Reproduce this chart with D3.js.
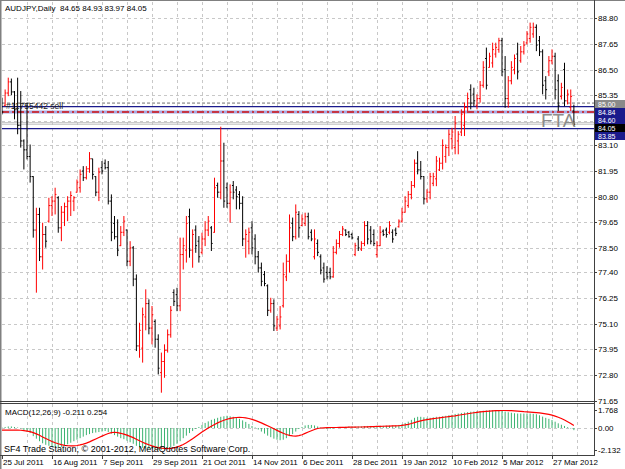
<!DOCTYPE html>
<html><head><meta charset="utf-8">
<script src="https://cdnjs.cloudflare.com/ajax/libs/d3/7.8.5/d3.min.js"></script>
<style>
html,body{margin:0;padding:0;background:#fff;}
svg text{font-family:"Liberation Sans",Arial,sans-serif;font-size:8px;}
</style></head>
<body><svg id="c" width="625" height="469"></svg>
<script>
// ---------------- DATA ----------------
const symbolTitle = "AUDJPY,Daily  84.65 84.93 83.97 84.05";
const macdTitle = "MACD(12,26,9) -0.211 0.254";
const copyright = "SF4 Trade Station, \u00A9 2001-2012, MetaQuotes Software Corp.";
const dateLabels = ["25 Jul 2011","16 Aug 2011","7 Sep 2011","29 Sep 2011","21 Oct 2011","14 Nov 2011","6 Dec 2011","28 Dec 2011","19 Jan 2012","10 Feb 2012","5 Mar 2012","27 Mar 2012"];
const dateLabelBars = [0,16,32,48,64,80,96,112,128,144,160,176];
const priceTicks = [88.80,87.65,86.50,85.35,84.20,83.10,81.95,80.80,79.65,78.50,77.40,76.25,75.10,73.95,72.80,71.65];
const hiddenPriceTicks = [84.20]; // covered by the price boxes in the reference
const macdTicks = [1.768,0.00,-2.132];

const open = [85.10,84.90,85.45,85.95,85.50,84.70,84.00,83.30,82.90,82.60,
81.70,79.30,80.00,78.10,79.10,79.70,80.40,80.60,80.75,79.40,
80.10,80.35,80.60,80.60,81.00,81.20,81.95,81.65,82.05,82.50,
81.70,81.00,82.10,82.30,82.10,80.60,79.60,79.00,78.60,79.20,
79.30,77.90,78.50,77.10,74.10,74.00,75.40,76.00,74.90,75.20,
74.40,72.90,73.40,73.90,74.60,76.50,76.40,75.90,78.20,78.40,
79.90,78.40,79.30,78.80,78.30,78.90,79.30,79.40,79.20,81.30,
81.00,82.40,81.20,80.50,81.30,81.10,80.90,80.50,78.90,78.80,
79.40,78.90,78.10,77.60,77.30,76.80,75.70,76.00,74.90,75.00,
75.90,77.20,77.90,79.60,79.00,80.00,79.50,79.60,79.90,79.20,
78.10,78.70,78.10,77.60,77.40,77.40,77.20,78.30,78.70,79.10,
79.30,79.20,79.10,78.20,78.90,78.45,78.70,79.50,79.30,79.10,
78.20,78.60,79.25,79.30,79.20,79.20,79.30,79.45,79.70,80.10,
80.40,80.90,81.30,82.30,82.00,81.70,80.70,81.00,81.40,81.60,
82.00,82.30,82.60,83.00,83.40,83.00,83.30,83.70,84.00,84.80,
85.60,85.40,84.90,85.20,85.80,87.00,86.60,86.80,87.20,87.40,
87.80,86.50,85.20,86.00,86.50,87.20,86.90,87.30,87.70,87.90,
88.10,88.40,87.80,87.30,86.00,86.40,86.90,87.10,86.00,85.30,
86.50,85.10,84.80,84.65];
const high = [85.24,85.61,86.14,86.10,85.54,86.14,85.54,83.37,85.02,83.14,
81.72,80.30,80.30,79.63,79.48,80.75,80.82,81.20,80.82,80.38,
80.53,80.82,81.04,80.82,81.57,82.02,82.17,82.17,82.80,82.50,
81.72,82.10,82.40,82.47,82.40,80.90,79.93,79.78,79.48,79.93,
79.33,78.80,78.58,77.31,75.14,75.82,76.64,76.19,75.89,75.29,
74.62,73.80,74.17,74.84,75.89,76.64,76.71,78.96,78.96,79.93,
80.26,79.33,79.51,79.03,79.18,79.70,79.93,79.48,81.65,81.43,
83.94,83.22,81.43,81.35,81.50,81.27,81.05,80.82,79.33,79.41,
79.70,79.11,78.36,77.84,77.46,76.86,76.26,76.19,75.44,75.89,
77.84,78.21,80.00,79.86,80.45,80.15,80.00,80.08,80.08,79.33,
79.33,78.88,78.21,77.84,77.68,77.61,78.58,78.88,79.26,79.48,
79.33,79.26,79.18,78.73,79.03,78.80,79.70,79.70,79.48,79.33,
78.80,79.48,79.33,79.41,79.70,79.33,79.41,79.78,80.30,80.82,
81.05,81.50,82.47,82.84,82.40,81.72,81.13,81.87,81.87,82.62,
82.55,83.37,83.14,83.82,83.89,84.42,83.74,84.72,85.02,85.47,
85.84,85.69,85.39,85.99,86.88,87.49,87.26,87.71,87.71,87.93,
87.93,87.11,86.21,86.88,87.18,87.71,87.56,87.78,88.23,88.61,
88.61,88.53,88.01,87.41,86.21,87.11,87.41,87.26,86.29,85.91,
86.81,85.61,85.61,84.93];
const low = [84.49,84.86,85.31,85.35,84.27,83.60,83.00,82.02,82.47,81.43,
78.96,76.49,77.91,77.53,78.51,79.63,79.93,80.00,79.18,78.80,
79.48,79.70,79.93,80.15,80.98,80.98,81.50,81.57,81.87,81.57,
80.82,80.60,81.80,82.02,80.45,78.80,78.88,78.13,78.58,79.03,
77.68,77.68,76.78,73.87,73.57,73.35,74.80,74.62,74.17,74.02,
72.82,72.00,72.67,73.80,74.47,75.89,75.66,75.66,77.53,77.84,
78.06,77.61,78.28,77.84,78.21,78.58,79.03,78.36,79.18,80.75,
80.68,80.30,80.30,79.63,80.68,80.23,80.23,78.58,78.06,78.21,
78.21,77.76,77.39,76.78,76.78,75.44,75.59,74.77,74.77,74.84,
75.82,77.01,77.39,78.80,78.88,78.96,79.48,79.48,78.88,78.80,
77.98,78.13,77.31,76.94,77.09,77.09,77.16,78.21,78.51,79.03,
79.03,78.96,78.88,78.13,78.36,78.36,78.58,78.66,78.66,78.58,
78.06,78.58,79.03,78.96,79.11,78.73,79.03,79.41,79.63,80.08,
80.30,80.68,81.20,81.80,81.57,80.45,80.53,80.68,81.27,81.27,
81.95,82.02,82.32,82.62,82.92,82.70,82.70,83.52,83.52,84.64,
84.72,84.86,84.72,85.02,85.69,85.61,86.59,86.59,87.04,87.26,
86.21,84.79,84.79,85.84,86.29,86.06,86.81,87.18,87.63,87.71,
87.93,87.33,87.11,85.39,85.16,86.21,86.74,85.16,84.64,85.16,
84.86,84.94,84.64,83.97];
const close = [84.60,85.45,85.95,85.50,84.70,84.00,83.30,82.90,82.60,81.70,
79.30,80.00,78.10,79.10,78.80,80.40,80.60,80.90,79.40,80.10,
80.35,80.60,80.85,80.75,81.45,81.80,81.65,82.05,82.50,81.80,
81.00,81.90,81.95,82.10,80.60,79.20,79.00,78.40,79.20,79.70,
77.90,78.50,77.10,74.10,74.80,75.50,76.00,74.90,75.50,74.40,
73.10,73.40,73.90,74.60,75.70,76.10,75.90,78.20,78.60,79.60,
78.40,79.10,78.60,78.10,78.90,79.30,79.70,78.70,81.20,81.00,
82.40,80.60,80.50,81.00,81.00,80.80,80.50,78.90,79.10,79.20,
78.50,78.10,77.60,77.00,76.90,75.70,76.00,75.00,75.30,75.40,
77.30,77.90,79.40,79.00,80.10,79.40,79.80,79.90,79.00,78.90,
78.90,78.30,77.50,77.10,77.20,77.20,78.30,78.70,79.10,79.35,
79.10,79.00,78.95,78.60,78.50,78.70,79.50,78.90,78.80,78.70,
78.60,79.20,79.10,79.10,79.50,78.90,79.15,79.70,80.10,80.60,
80.90,81.30,82.30,82.00,81.70,80.70,81.00,81.70,81.70,82.40,
82.30,83.10,83.00,83.60,83.70,84.10,83.60,84.50,84.80,85.20,
85.00,85.10,85.20,85.80,86.60,85.80,87.10,87.40,87.50,87.80,
86.40,85.20,86.00,86.60,87.00,86.40,87.30,87.60,88.10,88.40,
88.40,87.60,87.30,85.80,85.60,86.90,87.10,85.60,84.90,85.70,
85.10,85.40,85.30,84.05];
const macdMain = [0.05,0.1,0.15,0.15,0.1,0.05,-0.05,-0.2,-0.35,
-0.5,-0.8,-1.05,-1.3,-1.5,-1.65,-1.75,-1.85,-1.9,-1.9,-1.85,-1.8,
-1.6,-1.45,-1.3,-1.15,-1.0,-0.85,-0.7,-0.6,-0.5,-0.45,-0.4,-0.35,-0.3,
-0.4,-0.55,-0.7,-0.85,-1.0,-1.1,-1.25,-1.4,-1.55,-1.75,-1.88,-1.95,-2.0,-2.04,-2.07,-2.1,-2.12,-2.13,-2.1,-2.02,-1.9,-1.75,-1.55,-1.3,-1.0,-0.75,-0.5,-0.3,-0.1,
0.1,0.3,0.5,0.65,0.8,0.9,1.0,1.1,1.15,1.2,1.15,1.1,1.0,0.9,0.75,0.6,0.4,0.2,0.05,
-0.15,-0.35,-0.55,-0.75,-0.9,-1.05,-1.15,-1.2,-1.15,-1.0,-0.8,-0.6,-0.35,
-0.1,0.1,0.25,0.3,0.3,0.25,0.15,
0.05,-0.05,-0.1,-0.1,-0.05,0.0,0.05,0.1,0.12,0.14,0.15,0.15,0.15,0.16,0.18,0.2,0.2,0.2,0.2,0.22,0.22,0.22,0.24,0.24,0.25,
0.3,0.38,0.5,0.62,0.8,1.0,1.1,1.1,1.05,1.0,1.0,1.05,1.1,1.1,1.15,1.2,1.25,1.3,1.38,1.42,1.48,1.52,1.56,1.6,1.62,1.64,1.67,1.7,1.72,1.74,1.75,1.76,1.768,
1.72,1.62,1.55,1.5,1.45,1.42,1.42,1.42,1.42,1.42,1.4,1.35,1.25,1.12,1.0,0.9,0.78,0.62,0.46,0.32,0.2,0.08,-0.05,-0.211];
const macdSignal = [-0.2,-0.2,-0.2,-0.2,-0.2,-0.2,-0.22,-0.25,-0.3,
-0.35,-0.45,-0.58,-0.72,-0.88,-1.03,-1.18,-1.32,-1.45,-1.55,-1.63,-1.7,-1.74,-1.76,-1.75,
-1.72,-1.66,-1.58,-1.48,-1.36,-1.22,-1.08,-0.94,-0.8,-0.66,-0.54,-0.45,-0.42,
-0.45,-0.52,-0.6,-0.7,-0.82,-0.95,-1.1,-1.25,-1.4,-1.53,-1.65,-1.76,-1.85,-1.92,-1.97,-2.0,-2.02,-2.0,-1.95,
-1.87,-1.76,-1.62,-1.45,-1.26,-1.05,-0.84,-0.62,-0.4,-0.2,0.0,0.18,0.35,0.5,0.64,0.76,0.86,0.94,1.0,1.03,1.04,1.03,0.99,0.93,0.85,
0.75,0.63,0.5,0.36,0.22,0.07,-0.08,-0.23,-0.38,-0.52,-0.64,-0.73,-0.78,-0.79,-0.75,-0.66,-0.53,-0.4,-0.27,-0.15,-0.05,
0.0,0.02,0.04,0.05,0.05,0.05,0.06,0.06,0.07,0.08,0.08,0.09,0.1,0.1,0.11,0.12,0.13,0.14,0.15,0.16,0.17,0.18,0.19,0.2,0.21,
0.22,0.25,0.3,0.36,0.44,0.53,0.62,0.7,0.77,0.83,0.88,0.92,0.96,1.0,1.04,1.08,1.12,1.16,1.2,1.25,1.3,1.35,1.4,1.45,1.5,1.54,1.58,1.61,1.64,1.66,1.68,1.7,1.71,
1.72,1.72,1.71,1.7,1.68,1.66,1.63,1.6,1.58,1.56,1.54,1.51,1.48,1.44,1.39,1.33,1.26,1.17,1.06,0.93,0.78,0.62,0.45,0.254];

// horizontal levels (prices)
const levelDashed = [85.00];
const levelNavy = [84.84, 83.85];
const levelOrder = [84.60];
const levelBidAsk = [84.12, 84.05];
const orderText = "#11755442 sell";
// price boxes on the right scale (stacked from top, as in the reference)
const priceBoxes = [
  {t:"85.00", bg:"#8a8a8a"},
  {t:"84.84", bg:"#1a1a8c"},
  {t:"84.60", bg:"#1a1a8c"},
  {t:"84.05", bg:"#000000"},
  {t:"83.85", bg:"#1a1a8c"}
];

// ---------------- DRAW ----------------
const svg = d3.select("#c");
const W = 625, H = 469;
const L = 2, R = 594, mainTop = 2, mainBot = 401, macdTop = 404, macdBot = 455;
const n = Math.min(open.length, high.length, low.length, close.length);

const x = d3.scaleLinear().domain([0, 184]).range([2, 577]);
const y = d3.scaleLinear().domain([71.65, 88.80]).range([400.5, 18.4]);
const ym = d3.scaleLinear().domain([-2.132, 1.768]).range([449.7, 410]);

svg.append("rect").attr("width", W).attr("height", H).attr("fill", "#fff");

const grid = svg.append("g").attr("stroke", "#c8c8c8").attr("stroke-width", 1).attr("stroke-dasharray", "3,3");
const vIdx = d3.range(8, 185, 8);
vIdx.forEach(i => {
  const gx = Math.round(x(i)) + 0.5;
  grid.append("line").attr("x1", gx).attr("x2", gx).attr("y1", mainTop).attr("y2", mainBot);
  grid.append("line").attr("x1", gx).attr("x2", gx).attr("y1", macdTop).attr("y2", macdBot);
});
priceTicks.forEach(p => {
  const gy = Math.round(y(p)) + 0.5;
  if (gy < mainBot - 1) grid.append("line").attr("x1", L).attr("x2", R).attr("y1", gy).attr("y2", gy);
});
grid.append("line").attr("x1", L).attr("x2", R).attr("y1", Math.round(ym(0)) + 0.5).attr("y2", Math.round(ym(0)) + 0.5);

svg.append("clipPath").attr("id", "cm").append("rect").attr("x", L).attr("y", mainTop).attr("width", R - L).attr("height", mainBot - mainTop);
svg.append("clipPath").attr("id", "cmacd").append("rect").attr("x", L).attr("y", macdTop).attr("width", R - L).attr("height", macdBot - macdTop);

const mainG = svg.append("g").attr("clip-path", "url(#cm)");

levelBidAsk.forEach(v => mainG.append("line").attr("x1", L).attr("x2", R).attr("y1", y(v)).attr("y2", y(v)).attr("stroke", "#c0c0c0").attr("stroke-width", 1));
levelDashed.forEach(v => mainG.append("line").attr("x1", L).attr("x2", R).attr("y1", y(v)).attr("y2", y(v)).attr("stroke", "#707070").attr("stroke-width", 1).attr("stroke-dasharray", "3,2"));
levelOrder.forEach(v => {
  mainG.append("line").attr("x1", L).attr("x2", R).attr("y1", y(v)).attr("y2", y(v)).attr("stroke", "#a8a8e0").attr("stroke-width", 3.2);
  mainG.append("line").attr("x1", L).attr("x2", R).attr("y1", y(v)).attr("y2", y(v)).attr("stroke", "#d01010").attr("stroke-width", 1.3).attr("stroke-dasharray", "7,3,2,3");
});
levelNavy.forEach(v => mainG.append("line").attr("x1", L).attr("x2", R).attr("y1", y(v)).attr("y2", y(v)).attr("stroke", "#1a1a8c").attr("stroke-width", 1.2));

const bars = mainG.append("g").attr("fill", "none").attr("stroke-width", 1);
for (let i = 0; i < n; i++) {
  const bx = x(i);
  const up = close[i] >= open[i];
  const path = `M${bx},${y(high[i])}V${y(low[i])}M${bx - 1.3},${y(open[i])}H${bx}M${bx},${y(close[i])}H${bx + 1.3}`;
  bars.append("path").attr("d", path).attr("stroke", up ? "#ff0000" : "#000000");
}

mainG.append("text").attr("x", 6).attr("y", y(84.84) + 2.5).attr("fill", "#202020").style("font-size", "8.5px").text(orderText);
svg.append("text").attr("x", 541).attr("y", 127).attr("fill", "#8c8c8c").style("font-size", "19px").text("FTA");

const macdG = svg.append("g").attr("clip-path", "url(#cmacd)");
const m = Math.min(n, macdMain.length, macdSignal.length);
for (let i = 0; i < m; i++) {
  macdG.append("line").attr("x1", x(i)).attr("x2", x(i)).attr("y1", ym(0)).attr("y2", ym(macdMain[i])).attr("stroke", "#3cb371").attr("stroke-width", 1);
}
macdG.append("path").datum(macdSignal.slice(0, m)).attr("fill", "none").attr("stroke", "#ff0000").attr("stroke-width", 1.2)
  .attr("d", d3.line().x((d, i) => x(i)).y(d => ym(d)));

const frame = svg.append("g").attr("stroke", "#808080").attr("fill", "none");
frame.append("line").attr("x1", 0.5).attr("x2", 0.5).attr("y1", 0).attr("y2", H).attr("stroke-width", 2);
frame.append("line").attr("x1", 0).attr("x2", W).attr("y1", 0.5).attr("y2", 0.5).attr("stroke-width", 1);
const ax = svg.append("g").attr("stroke", "#404040").attr("fill", "none").attr("stroke-width", 1);
ax.append("line").attr("x1", R + 0.5).attr("x2", R + 0.5).attr("y1", 0).attr("y2", macdBot + 1);
ax.append("line").attr("x1", 0).attr("x2", R + 1).attr("y1", mainBot + 0.5).attr("y2", mainBot + 0.5);
ax.append("line").attr("x1", 0).attr("x2", R + 1).attr("y1", macdTop - 0.5).attr("y2", macdTop - 0.5);
ax.append("line").attr("x1", 0).attr("x2", R + 1).attr("y1", macdBot + 0.5).attr("y2", macdBot + 0.5);

priceTicks.forEach(p => {
  const py = y(p);
  ax.append("line").attr("x1", R).attr("x2", R + 3).attr("y1", Math.round(py) + 0.5).attr("y2", Math.round(py) + 0.5);
  if (hiddenPriceTicks.indexOf(p) < 0)
    svg.append("text").attr("x", 598).attr("y", py + 3).attr("fill", "#000").text(p.toFixed(2));
});
macdTicks.forEach(v => {
  const py = ym(v);
  ax.append("line").attr("x1", R).attr("x2", R + 3).attr("y1", Math.round(py) + 0.5).attr("y2", Math.round(py) + 0.5);
  svg.append("text").attr("x", 598).attr("y", py + 3).attr("fill", "#000").text(v === 0 ? "0.00" : v.toFixed(3));
});

// stacked price boxes below the 85.35 label
const boxH = 8, boxTop = 100;
priceBoxes.forEach((b, k) => {
  const by = boxTop + k * boxH;
  svg.append("rect").attr("x", R + 1).attr("y", by).attr("width", 30).attr("height", boxH).attr("fill", b.bg);
  svg.append("text").attr("x", 598).attr("y", by + 6.6).attr("fill", "#ffffff").style("font-size", "7px").text(b.t);
});

dateLabels.forEach((t, k) => {
  const dx = x(dateLabelBars[k]);
  ax.append("line").attr("x1", Math.round(dx) + 0.5).attr("x2", Math.round(dx) + 0.5).attr("y1", macdBot).attr("y2", macdBot + 4);
  svg.append("text").attr("x", dx + 1).attr("y", 465).attr("fill", "#000").text(t);
});

svg.append("text").attr("x", 5).attr("y", 11).attr("fill", "#000").style("white-space", "pre").text(symbolTitle);
svg.append("text").attr("x", 5).attr("y", 415).attr("fill", "#000").text(macdTitle);
svg.append("text").attr("x", 4).attr("y", 452).attr("fill", "#000").style("font-size", "9px").text(copyright);
</script></body></html>
